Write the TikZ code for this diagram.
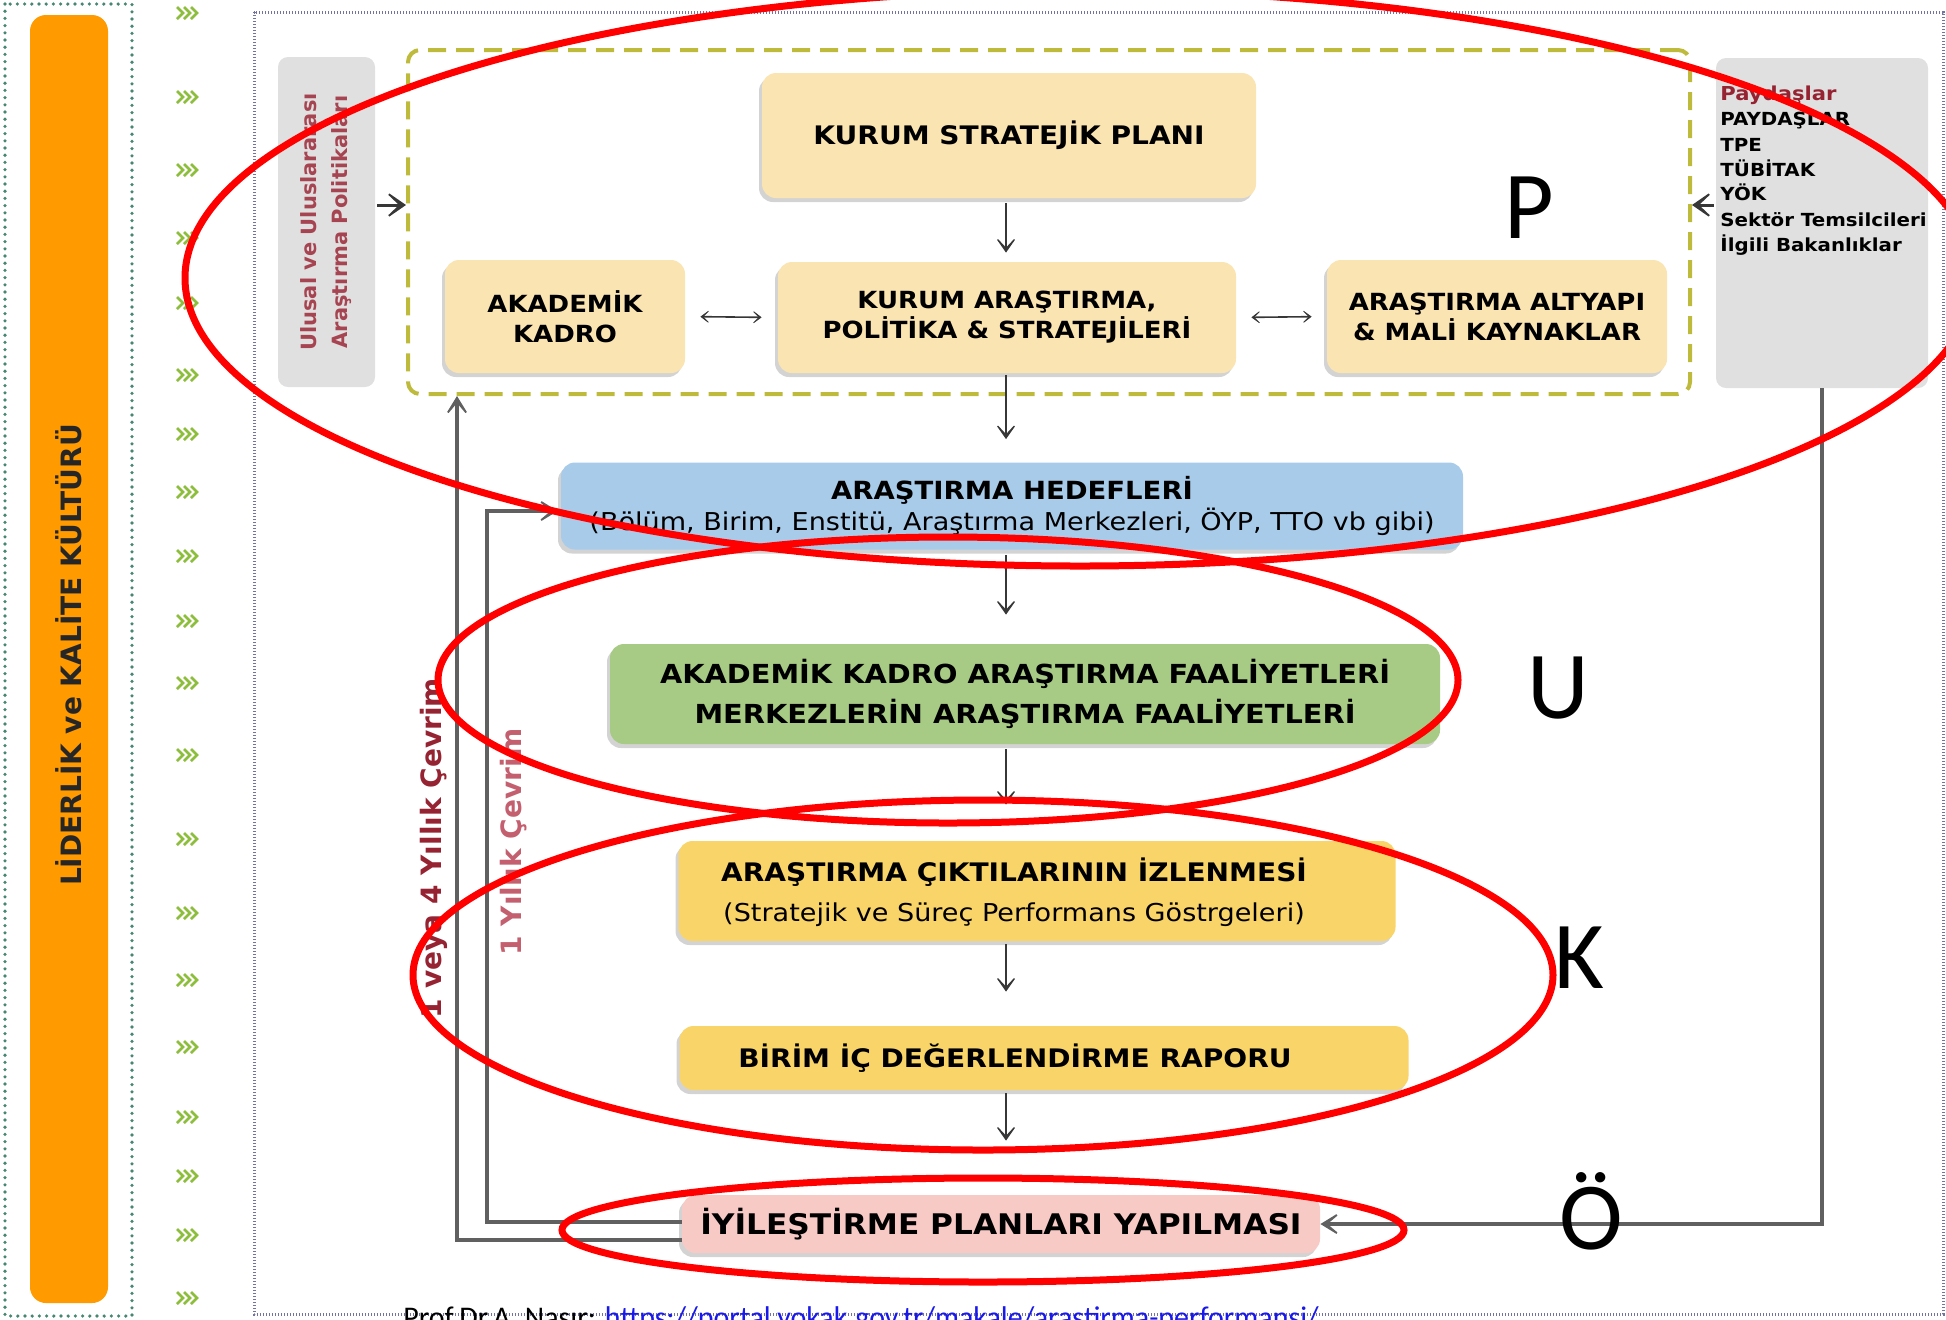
\documentclass[tikz,border=0pt]{standalone}
\usepackage{fontspec}
\setmainfont{DejaVu Sans}
\newfontfamily\genis[FakeStretch=1.1]{DejaVu Sans}
\newfontfamily\calfont{Carlito}
\usetikzlibrary{arrows.meta,shadows}

\definecolor{bej}{RGB}{250,228,178}
\definecolor{gokmavi}{RGB}{168,203,234}
\definecolor{yaprak}{RGB}{167,202,132}
\definecolor{gunes}{RGB}{249,212,104}
\definecolor{pembe}{RGB}{248,202,198}
\definecolor{kutugri}{RGB}{224,224,224}
\definecolor{turuncu}{RGB}{255,154,0}
\definecolor{zeytin}{RGB}{190,186,60}
\definecolor{bordo}{RGB}{150,35,50}
\definecolor{soluk}{RGB}{195,95,110}
\definecolor{cimen}{RGB}{140,190,60}
\definecolor{okgri}{RGB}{55,55,55}
\definecolor{baglanti}{RGB}{25,25,235}

\tikzset{
  kutu/.style={rounded corners=7pt, align=center, inner sep=0pt,
    drop shadow={shadow xshift=-1.5pt,shadow yshift=-2pt,opacity=.35}},
  kalin/.style={font=\genis\bfseries\fontsize{12.75}{20}\selectfont},
  akis/.style={draw=okgri, line width=1.2pt, -{Stealth[length=10pt,width=14pt,inset=7.5pt]}},
  cift/.style={draw=okgri, line width=.8pt, {Stealth[length=6pt,width=9pt,inset=4.5pt]}-{Stealth[length=6pt,width=9pt,inset=4.5pt]}},
  buyukok/.style={draw=okgri, line width=1.5pt, -{Stealth[length=13pt,width=18pt,inset=9.5pt]}},
  donus/.style={draw=gray!75!black, line width=2pt, -{Stealth[length=13pt,width=16pt,inset=9.5pt]}},
  ok3/.style={draw=cimen, line width=1.3pt},
  halka/.style={draw=red, line width=3.5pt},
  harf/.style={font=\calfont\fontsize{48}{50}\selectfont, inner sep=0pt}
}

\begin{document}
\begin{tikzpicture}[x=0.5pt,y=-0.5pt]
\useasboundingbox (0,0) rectangle (1946,1319);

% sol serit
\draw[draw={rgb,255:red,70;green,135;blue,115}, line width=1.8pt, line cap=round, dash pattern=on 0pt off 3.6pt] (5,4) rectangle (132,1316);
\fill[turuncu, rounded corners=8pt] (30,15) rectangle (108,1303);
\node[rotate=90, font=\bfseries\fontsize{14}{16}\selectfont, text=black!85] (kultur) at (69,655) {LİDERLİK ve KALİTE KÜLTÜRÜ};
\foreach \cy in {13,97,170,238,303,375,434,492,556,621,683,755,839,913,980,1047,1117,1176,1235,1298}
  \foreach \cx in {177,184,191}
    \draw[ok3] (\cx,\cy-6) -- (\cx+6,\cy) -- (\cx,\cy+6);

% ana cerceve
\draw[draw={rgb,255:red,115;green,115;blue,160}, line width=1.5pt, dash pattern=on .6pt off .9pt] (254,12) rectangle (1943,1314);
\node[draw=zeytin, line width=2pt, dash pattern=on 9pt off 5pt, rounded corners=6pt, minimum width=641pt, minimum height=172pt] (cerceve) at (1049,222) {};

\node[fill=kutugri, rounded corners=5pt, minimum width=48.5pt, minimum height=165pt] (ulusal) at (326.5,222) {};
\node[rotate=90, align=center, text=bordo!85, font=\bfseries\fontsize{10.5}{15.5}\selectfont] (ulusalyazi) at (ulusal) {Ulusal ve Uluslararası\\Araştırma Politikaları};
\node[fill=kutugri, rounded corners=5pt, minimum width=106pt, minimum height=165pt] (paydas) at (1822,223) {};
\node[anchor=north west, align=left, inner sep=0pt, font=\genis\bfseries\fontsize{9}{12.5}\selectfont] (paydasyazi) at (1720,86)
  {{\fontsize{9.6}{12.5}\selectfont\color{bordo}Paydaşlar}\\PAYDAŞLAR\\TPE\\TÜBİTAK\\YÖK\\Sektör Temsilcileri\\İlgili Bakanlıklar};

\node[kutu, kalin, fill=bej, minimum width=247pt, minimum height=62.5pt] (plan) at (1009,135.5) {KURUM STRATEJİK PLANI};
\node[kutu, fill=bej, minimum width=120pt, minimum height=56.5pt, font=\genis\bfseries\fontsize{11.8}{15}\selectfont] (kadro) at (565,316.5) {AKADEMİK\\KADRO};
\node[kutu, fill=bej, minimum width=229pt, minimum height=55.5pt, font=\genis\bfseries\fontsize{11.8}{15}\selectfont] (politika) at (1007,317.5) {KURUM ARAŞTIRMA,\\POLİTİKA \& STRATEJİLERİ};
\node[kutu, fill=bej, minimum width=170pt, minimum height=56.5pt, font=\genis\bfseries\fontsize{11.8}{15}\selectfont] (altyapi) at (1497,316.5) {ARAŞTIRMA ALTYAPI\\\& MALİ KAYNAKLAR};

\node[kutu, fill=gokmavi, minimum width=451pt, minimum height=43.5pt, font=\genis\bfseries\fontsize{12.5}{15.5}\selectfont] (hedef) at (1012,506)
  {ARAŞTIRMA HEDEFLERİ\\\mdseries\fontsize{12.3}{15.5}\selectfont(Bölüm, Birim, Enstitü, Araştırma Merkezleri, ÖYP, TTO vb gibi)};
\node[kutu, fill=yaprak, minimum width=415pt, minimum height=50pt, font=\genis\bfseries\fontsize{13.1}{20}\selectfont] (faaliyet) at (1025,694)
  {AKADEMİK KADRO ARAŞTIRMA FAALİYETLERİ\\MERKEZLERİN ARAŞTIRMA FAALİYETLERİ};
\node[kutu, fill=gunes, minimum width=358.5pt, minimum height=50pt] (cikti) at (1037,891) {};
\node[kalin, align=center] (ciktiyazi) at (1014,892)
  {ARAŞTIRMA ÇIKTILARININ İZLENMESİ\\\mdseries\fontsize{12.3}{20}\selectfont(Stratejik ve Süreç Performans Göstrgeleri)};
\node[kutu, fill=gunes, minimum width=364.5pt, minimum height=32pt] (rapor) at (1044,1058) {};
\node[kalin] (raporyazi) at (1015,1058) {BİRİM İÇ DEĞERLENDİRME RAPORU};
\node[kutu, fill=pembe, minimum width=319pt, minimum height=29pt, font=\genis\bfseries\fontsize{14.2}{16}\selectfont] (iyilestirme) at (1001,1224) {İYİLEŞTİRME PLANLARI YAPILMASI};

% oklar
\coordinate (eksen) at (1006,0);
\coordinate (yan) at (0,205);
\coordinate (dis) at (457,0);
\coordinate (ic) at (487,0);
\coordinate (hedefok) at ([yshift=-2.5pt]hedef.west);
\draw[akis, shorten <=2.5pt, shorten >=4.5pt] (eksen |- plan.south) -- (eksen |- politika.north);
\draw[akis, shorten <=1pt, shorten >=11.5pt] (eksen |- politika.south) -- (eksen |- hedef.north);
\draw[akis, shorten <=2.5pt, shorten >=14.5pt] (eksen |- hedef.south) -- (eksen |- faaliyet.north);
\draw[akis, shorten <=2.5pt, shorten >=18pt] (eksen |- faaliyet.south) -- (eksen |- cikti.north);
\draw[akis, shorten <=1.5pt, shorten >=17pt] (eksen |- cikti.south) -- (eksen |- rapor.north);
\draw[akis, shorten <=1.5pt, shorten >=27pt] (eksen |- rapor.south) -- (eksen |- iyilestirme.north);
\draw[cift, shorten <=7.5pt, shorten >=8pt] (kadro.east) -- (politika.west);
\draw[cift, shorten <=7.5pt, shorten >=7.5pt] (politika.east) -- (altyapi.west);
\draw[buyukok, shorten <=1pt] (ulusal.east |- yan) -- (cerceve.west |- yan);
\draw[buyukok, shorten <=1pt] (paydas.west |- yan) -- (cerceve.east |- yan);

% geri besleme
\draw[donus] ([yshift=-8pt]iyilestirme.west) -| (dis |- cerceve.south);
\draw[donus, shorten >=1.5pt] ([yshift=1pt]iyilestirme.west) -| (ic |- hedefok) -- (hedefok);
\draw[donus] (paydas.south) -- (paydas.south |- iyilestirme.east) -- (iyilestirme.east);
\node[rotate=90, text=bordo, font=\bfseries\fontsize{14}{16}\selectfont] (dortyil) at (434,848) {1 veya 4 Yıllık Çevrim};
\node[rotate=90, text=soluk, font=\bfseries\fontsize{14}{16}\selectfont] (biryil) at (514,842) {1 Yıllık Çevrim};

% kaynak
\node[anchor=base west, inner sep=0pt, font=\calfont\fontsize{15}{17}\selectfont] (kaynak) at (403,1327)
  {Prof.Dr.A. Nasır: \textcolor{baglanti}{\underline{https://portal.yokak.gov.tr/makale/arastirma-performansi/}}};

% PUKO
\draw[halka] (1080,278) ellipse [x radius=447.5pt, y radius=144pt];
\draw[halka] (948,680) ellipse [x radius=255pt, y radius=71.5pt];
\draw[halka] (983,975) ellipse [x radius=285pt, y radius=87.5pt];
\draw[halka] (983,1230) ellipse [x radius=210.5pt, y radius=26pt];
\node[harf, anchor=base] (p) at (1529,238) {P};
\node[harf, anchor=base] (u) at (1558,718) {U};
\node[harf, anchor=base] (k) at (1579,988) {K};
\node[harf, anchor=base] (o) at (1591,1249) {Ö};
\end{tikzpicture}
\end{document}
